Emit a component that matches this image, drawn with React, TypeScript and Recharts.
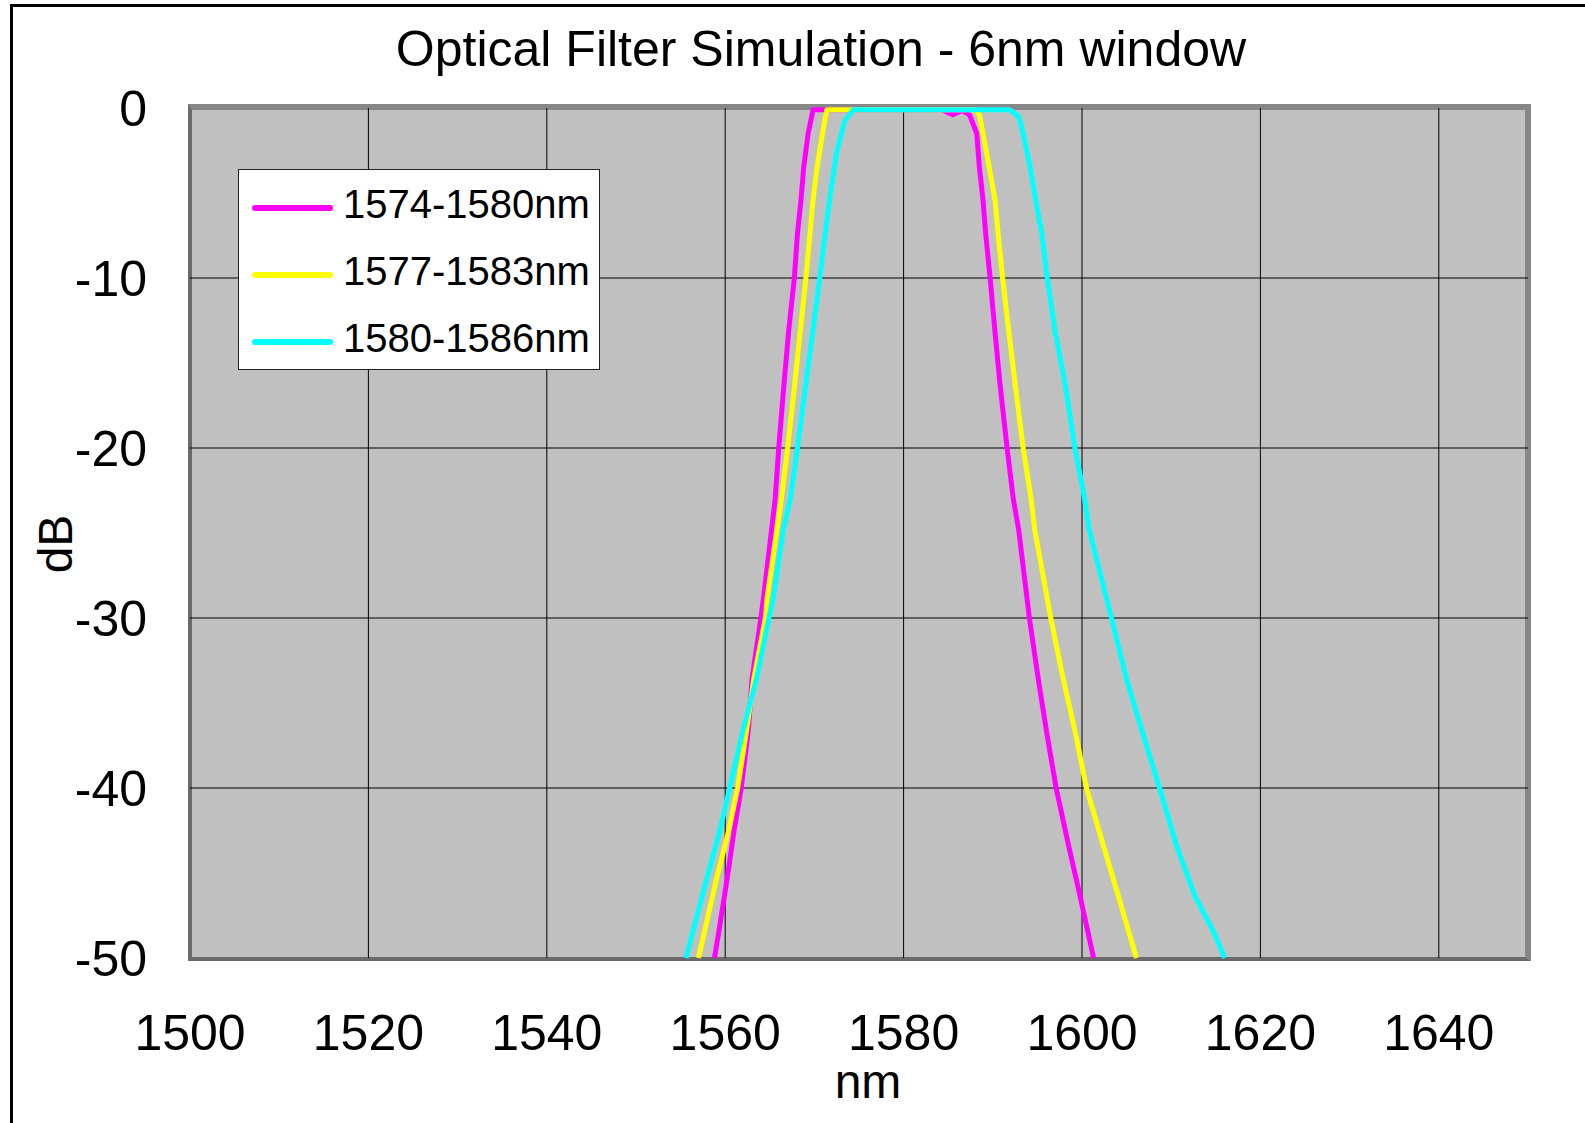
import React from "react";
import { LineChart, Line, XAxis, YAxis, CartesianGrid } from "recharts";

const FONT = "'Liberation Sans', Arial, sans-serif";

const xTicks = [1500, 1520, 1540, 1560, 1580, 1600, 1620, 1640];
const yTicks = [0, -10, -20, -30, -40, -50];
const xGrid = [1520, 1540, 1560, 1580, 1600, 1620, 1640];
const yGrid = [-10, -20, -30, -40];

// [nm, dB]
const curve1574: [number, number][] = [
  [1558.8, -50], [1559.3, -48.4], [1560.2, -45.4], [1561.0, -42.5], [1561.8, -40],
  [1562.6, -36.6], [1563.0, -33.6], [1564.0, -30], [1564.3, -28.8], [1565.2, -24.8],
  [1565.6, -23], [1566.0, -20], [1566.6, -16.2], [1567.1, -13.2], [1567.75, -10],
  [1568.1, -7.4], [1568.5, -5.4], [1568.8, -3.5], [1569.3, -1.5], [1569.85, -0.1],
  [1584.3, -0.1], [1585.5, -0.4], [1586.6, -0.15], [1587.4, -0.4], [1588.2, -1.5],
  [1588.5, -3.5], [1588.9, -5.4], [1589.2, -7.4], [1589.7, -10], [1590.25, -13.2],
  [1590.8, -16.2], [1591.6, -20], [1592.3, -23], [1592.9, -24.8], [1594.1, -30],
  [1595.1, -33.6], [1596.0, -36.6], [1597.1, -40], [1598.5, -43.4], [1599.8, -46.4],
  [1601.3, -50],
];

const curve1577: [number, number][] = [
  [1557.0, -50], [1557.7, -48.4], [1559.0, -45.4], [1560.4, -42.5], [1561.4, -40],
  [1562.4, -36.6], [1563.2, -33.6], [1564.5, -30], [1564.7, -28.8], [1565.8, -24.8],
  [1566.3, -23], [1567.0, -20], [1567.8, -16.2], [1568.4, -13.2], [1569.05, -10],
  [1569.5, -7.4], [1569.85, -5.4], [1570.3, -3.5], [1570.9, -1.5], [1571.4, -0.1],
  [1588.0, -0.1], [1588.5, -0.4], [1588.9, -1.5], [1589.6, -3.5], [1590.25, -5.4],
  [1590.6, -7.4], [1591.1, -10], [1591.8, -13.2], [1592.5, -16.2], [1593.4, -20],
  [1594.3, -23], [1594.7, -24.8], [1596.5, -30], [1597.9, -33.6], [1599.2, -36.6],
  [1600.5, -40], [1602.4, -43.4], [1604.1, -46.4], [1606.1, -50],
];

const curve1580: [number, number][] = [
  [1555.6, -50], [1556.4, -48.4], [1557.9, -45.4], [1559.4, -42.5], [1560.5, -40],
  [1562.0, -36.6], [1563.5, -33.6], [1564.9, -30], [1565.4, -28.8], [1566.5, -24.8],
  [1567.3, -23], [1568.1, -20], [1569.05, -16.2], [1569.8, -13.2], [1570.6, -10],
  [1571.2, -7.4], [1571.7, -5.4], [1572.5, -2.6], [1573.4, -0.75], [1574.35, -0.1],
  [1591.9, -0.1], [1592.9, -0.5], [1593.4, -1.5], [1594.2, -3.5], [1594.8, -5.4],
  [1595.5, -7.4], [1596.1, -10], [1597.0, -13.2], [1598.1, -16.2], [1599.2, -20],
  [1600.3, -23], [1600.8, -24.8], [1603.3, -30], [1605.0, -33.6], [1606.7, -36.6],
  [1608.7, -40], [1610.6, -43.4], [1612.7, -46.4], [1614.7, -48.4], [1616.0, -50],
];

const seriesNames = ["1574-1580nm", "1577-1583nm", "1580-1586nm"];
const seriesColors = ["#ff00ff", "#ffff00", "#00ffff"];
const seriesCurves = [curve1574, curve1577, curve1580];

const toPoints = (pts: [number, number][]) => pts.map(([x, y]) => ({ x, y }));

export default function App() {
  return (
    <div
      style={{
        position: "absolute",
        left: 0,
        top: 0,
        width: 1585,
        height: 1123,
        overflow: "hidden",
        background: "#fff",
        fontFamily: FONT,
      }}
    >
      {/* outer chart frame */}
      <div
        style={{
          position: "absolute",
          left: 10,
          top: 4,
          width: 1700,
          height: 1300,
          border: "3px solid #000",
        }}
      />

      {/* plot area background + border */}
      <div
        style={{
          position: "absolute",
          left: 188,
          top: 104,
          width: 1343,
          height: 857,
          boxSizing: "border-box",
          background: "#c0c0c0",
          borderTop: "6px solid #878787",
          borderRight: "6px solid #878787",
          borderBottom: "4px solid #6a6a6a",
          borderLeft: "4px solid #6a6a6a",
        }}
      />

      <div style={{ position: "absolute", left: 0, top: 0 }}>
        <LineChart
          width={1585}
          height={1123}
          margin={{ top: 108, right: 57, bottom: 0, left: 0 }}
        >
          <CartesianGrid
            stroke="#000"
            strokeWidth={1}
            horizontalValues={yGrid}
            verticalValues={xGrid}
          />
          <XAxis
            type="number"
            dataKey="x"
            domain={[1500, 1650]}
            ticks={xTicks}
            interval={0}
            height={165}
            axisLine={false}
            tickLine={false}
            tickSize={0}
            tickMargin={56}
            tick={{ fontSize: 50, fill: "#000", fontFamily: FONT }}
          />
          <YAxis
            type="number"
            dataKey="y"
            domain={[-50, 0]}
            ticks={yTicks}
            interval={0}
            width={190}
            axisLine={false}
            tickLine={false}
            tickSize={0}
            tickMargin={43}
            tick={{ fontSize: 50, fill: "#000", fontFamily: FONT }}
          />
          {seriesCurves.map((c, i) => (
            <Line
              key={seriesNames[i]}
              name={seriesNames[i]}
              data={toPoints(c)}
              dataKey="y"
              type="linear"
              stroke={seriesColors[i]}
              strokeWidth={5}
              strokeLinejoin="round"
              dot={false}
              activeDot={false}
              isAnimationActive={false}
            />
          ))}
        </LineChart>
      </div>

      {/* title */}
      <div
        style={{
          position: "absolute",
          left: 821,
          top: 24,
          transform: "translateX(-50%)",
          fontSize: 50,
          lineHeight: "50px",
          whiteSpace: "nowrap",
          color: "#000",
        }}
      >
        Optical Filter Simulation - 6nm window
      </div>

      {/* axis titles */}
      <div
        style={{
          position: "absolute",
          left: 868,
          top: 1058,
          transform: "translateX(-50%)",
          fontSize: 48,
          lineHeight: "48px",
          whiteSpace: "nowrap",
        }}
      >
        nm
      </div>
      <div
        style={{
          position: "absolute",
          left: 56,
          top: 544,
          transform: "translate(-50%, -50%) rotate(-90deg)",
          fontSize: 48,
          lineHeight: "48px",
          whiteSpace: "nowrap",
        }}
      >
        dB
      </div>

      {/* legend */}
      <div
        style={{
          position: "absolute",
          left: 238,
          top: 169,
          width: 362,
          height: 201,
          boxSizing: "border-box",
          background: "#fff",
          border: "1px solid #222",
        }}
      >
        {seriesNames.map((name, i) => (
          <React.Fragment key={name}>
            <div
              style={{
                position: "absolute",
                left: 13,
                top: 35 + i * 67,
                width: 81,
                height: 6,
                borderRadius: 3,
                background: seriesColors[i],
              }}
            />
            <div
              style={{
                position: "absolute",
                left: 104,
                top: 14 + i * 67,
                fontSize: 40,
                lineHeight: "40px",
                whiteSpace: "nowrap",
                color: "#000",
              }}
            >
              {name}
            </div>
          </React.Fragment>
        ))}
      </div>
    </div>
  );
}
